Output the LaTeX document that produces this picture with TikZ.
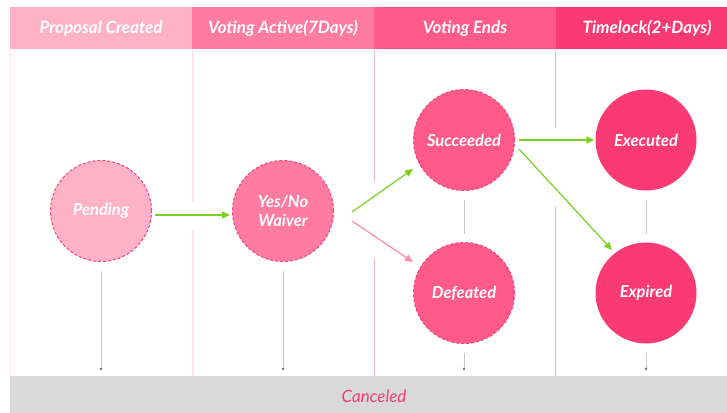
\documentclass[tikz,border=0pt]{standalone}
\usepackage{fontspec}
\setmainfont{Lato}
\usetikzlibrary{arrows.meta,calc}
\definecolor{headA}{HTML}{FFB1C8}
\definecolor{headB}{HTML}{FF7BA1}
\definecolor{headC}{HTML}{FF5A89}
\definecolor{headD}{HTML}{FA3A75}
\definecolor{ringpink}{HTML}{F0457E}
\definecolor{okgreen}{HTML}{78D21F}
\definecolor{nopink}{HTML}{F68BAE}
\definecolor{dropgray}{HTML}{C8C8C8}
\definecolor{bargray}{HTML}{D9D9D9}
\definecolor{cancelpink}{HTML}{F03F78}
\definecolor{laneedge}{HTML}{FFE6EE}
\definecolor{laneA}{HTML}{FFD8E3}
\definecolor{laneB}{HTML}{F9B6C9}

\begin{document}
\begin{tikzpicture}[x=1pt, y=-1pt,
	state/.style={circle, minimum size=101pt, inner sep=0pt, text=white, align=center,
		font=\fontsize{16.5}{19}\selectfont\bfseries\itshape},
	ring/.style={draw=ringpink, line width=1pt, dash pattern=on 3pt off 2pt},
	go/.style={draw=okgreen, line width=1.2pt, -{Triangle[length=8pt,width=7pt]}},
	nogo/.style={draw=nopink, line width=1.2pt, -{Triangle[length=8pt,width=7pt]}},
	drop/.style={draw=dropgray, line width=0.7pt, -{Triangle[length=3pt,width=3pt,color=gray]}},
	lane/.style={line width=0.8pt}]
	\useasboundingbox (0,0) rectangle (727,412);
	\clip (0,0) rectangle (727,412);
	
	%lane borders
	\draw[lane, draw=laneedge] (10,50) -- (10,376);
	\foreach \x/\a/\b/\c in {192/202/230/laneA, 374/182/258/laneB, 555/128/206/laneB}{
		\draw[lane, draw=\c] (\x,50) -- (\x,\a);
		\draw[lane, draw=\c] (\x,\b) -- (\x,376);
	}
	
	%header
	\foreach \i/\t/\c in {0/Proposal Created/headA, 1/Voting Active(7Days)/headB, 2/Voting Ends/headC, 3/Timelock(2+Days)/headD}{
		\node[fill=\c, minimum width=182pt, minimum height=42pt, inner sep=0pt, text=white,
			text height=12pt, text depth=0pt,
			font=\fontsize{17}{20}\selectfont\bfseries\itshape] (head\i) at (101+182*\i, 28) {\t};
	}
	
	%states
	\node[state, fill=headA, ring] (pend) at (101,211) {Pending};
	\node[state, fill=headB, ring] (vote) at (283,211) {Yes/No\\Waiver};
	\node[state, fill=headC, ring] (succ) at (464,140) {Succeeded};
	\node[state, fill=headC, ring] (defe) at (464,293) {Defeated};
	\node[state, fill=headD] (exec) at (646,140) {Executed};
	\node[state, fill=headD] (expi) at (646,293) {Expired};
	
	%canceled bar
	\node[fill=bargray, minimum width=728pt, minimum height=40pt, inner sep=0pt, text=cancelpink,
		font=\fontsize{17}{20}\selectfont\itshape] (canc) at (374,396) {Canceled};
	
	%transitions
	\draw[go] ($(pend.east)+(3,4)$) -- ($(vote.west)+(-2,4)$);
	\draw[go] ($(vote.east)+(18,1)$) -- ($(succ.center)+(-51,29)$);
	\draw[nogo] ($(vote.east)+(18,10)$) -- ($(defe.center)+(-51,-31)$);
	\draw[go] ($(succ.east)+(4,0)$) -- ($(exec.west)+(-1,0)$);
	\draw[go] ($(succ.center)+(55,9)$) -- ($(expi.center)+(-34,-43)$);
	
	\draw[dropgray, line width=0.7pt, shorten <=9pt, shorten >=8pt] (succ.south) -- (defe.north);
	\draw[dropgray, line width=0.7pt, shorten <=9pt, shorten >=8pt] (exec.south) -- (expi.north);
	\foreach \s in {pend, vote, defe, expi}{
		\draw[drop, shorten <=9pt, shorten >=5pt] (\s.south) -- (\s.south |- canc.north);
	}
\end{tikzpicture}
\end{document}
